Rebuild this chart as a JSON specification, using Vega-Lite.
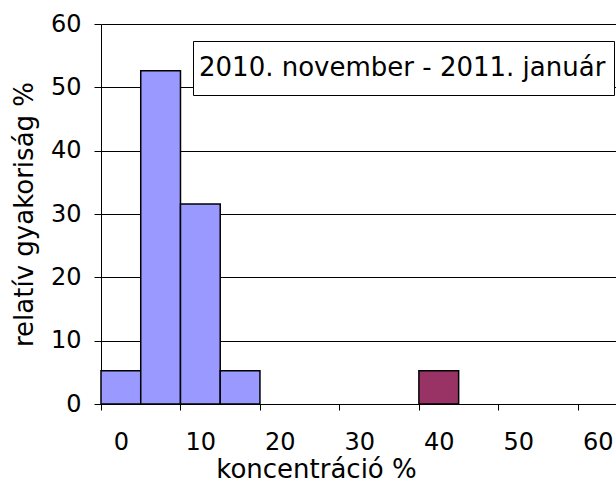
{
  "$schema": "https://vega.github.io/schema/vega-lite/v6.json",
  "autosize": {"type": "none"},
  "width": 515,
  "height": 380,
  "padding": {"left": 101, "top": 24, "right": 0, "bottom": 78},
  "background": "white",
  "config": {
    "view": {"stroke": null},
    "font": "DejaVu Sans",
    "axis": {"domainColor": "black", "tickColor": "black", "labelColor": "black", "titleColor": "black", "titleFontWeight": "normal", "labelFont": "DejaVu Sans", "titleFont": "DejaVu Sans"}
  },
  "data": {
    "values": [
      {"koncentracio": 0, "gyakorisag": 5.26, "csoport": "alap", "idoszak": "2010. november - 2011. január"},
      {"koncentracio": 5, "gyakorisag": 52.63, "csoport": "alap", "idoszak": "2010. november - 2011. január"},
      {"koncentracio": 10, "gyakorisag": 31.58, "csoport": "alap", "idoszak": "2010. november - 2011. január"},
      {"koncentracio": 15, "gyakorisag": 5.26, "csoport": "alap", "idoszak": "2010. november - 2011. január"},
      {"koncentracio": 40, "gyakorisag": 5.26, "csoport": "kiemelt", "idoszak": "2010. november - 2011. január"}
    ]
  },
  "mark": {"type": "bar", "width": 39.75, "stroke": "black", "strokeWidth": 1.5, "opacity": 1},
  "encoding": {
    "x": {
      "field": "koncentracio",
      "type": "quantitative",
      "scale": {"domain": [-2.5, 62.3], "nice": false, "zero": false, "padding": 0},
      "axis": {
        "values": [0, 10, 20, 30, 40, 50, 60],
        "grid": false,
        "tickSize": 6,
        "tickOffset": -19.875,
        "labelOffset": 19.875,
        "labelFontSize": 24,
        "labelPadding": 20,
        "labelFlush": false,
        "labelOverlap": false,
        "title": "koncentráció %",
        "titleFontSize": 26,
        "titleX": 215,
        "titleY": 73,
        "titleBaseline": "alphabetic",
        "titleAlign": "center"
      }
    },
    "y": {
      "field": "gyakorisag",
      "type": "quantitative",
      "scale": {"domain": [0, 60], "nice": false},
      "axis": {
        "values": [0, 10, 20, 30, 40, 50, 60],
        "grid": true,
        "gridColor": "black",
        "gridOpacity": 1,
        "gridWidth": 1,
        "tickSize": 7,
        "labelFontSize": 24,
        "labelPadding": 13,
        "title": "relatív gyakoriság %",
        "titleFontSize": 26,
        "titleX": -77,
        "titleY": 190,
        "titleAngle": -90,
        "titleBaseline": "middle",
        "titleAlign": "center"
      }
    },
    "color": {
      "field": "csoport",
      "type": "nominal",
      "scale": {"domain": ["alap", "kiemelt"], "range": ["#9999FF", "#993366"]},
      "legend": null
    },
    "opacity": {
      "field": "idoszak",
      "type": "nominal",
      "scale": {"range": [1]},
      "legend": {
        "title": null,
        "orient": "none",
        "legendX": 92,
        "legendY": 17,
        "symbolSize": 0,
        "symbolStrokeWidth": 0,
        "symbolOpacity": 0,
        "labelOffset": -28,
        "labelFontSize": 26,
        "labelColor": "black",
        "labelFont": "DejaVu Sans",
        "labelLimit": 600,
        "clipHeight": 38,
        "padding": 8,
        "strokeColor": "black",
        "fillColor": "white"
      }
    }
  }
}
